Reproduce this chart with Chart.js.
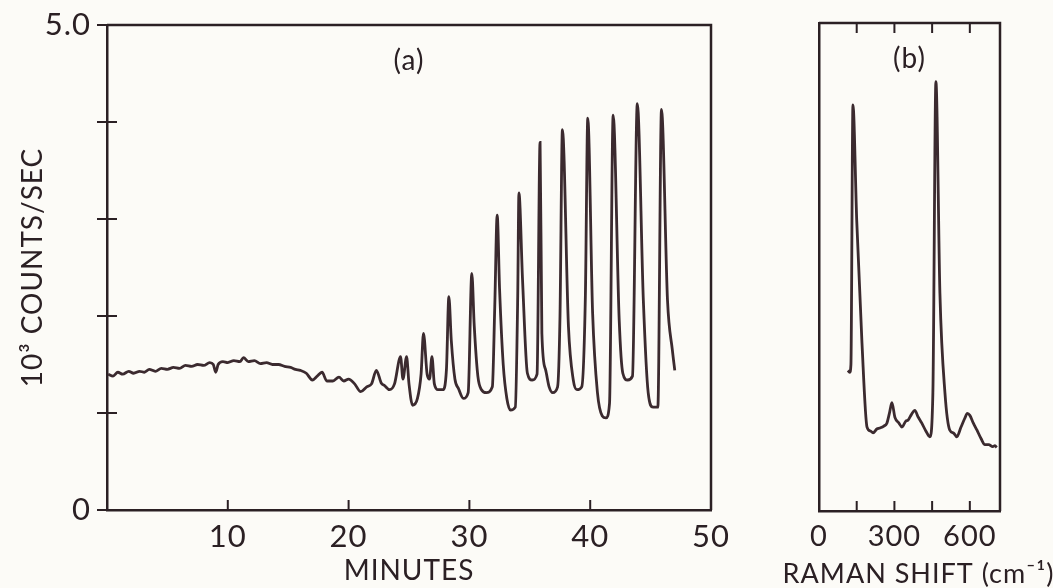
<!DOCTYPE html>
<html>
<head>
<meta charset="utf-8">
<script src="https://cdn.jsdelivr.net/npm/chart.js@4"></script>
<style>
  html, body { margin: 0; padding: 0; background: #fcfbf7; }
  #wrapA { position: absolute; left: 0; top: 0; width: 760px; height: 588px; }
  #wrapB { position: absolute; left: 760px; top: 0; width: 293px; height: 588px; }
</style>
</head>
<body>
<div id="wrapA"><canvas id="chartA"></canvas></div>
<div id="wrapB"><canvas id="chartB"></canvas></div>
<script>
// (a) counts vs time, minutes
var minutes = [
  0.1, 0.5, 0.9, 1.3, 1.8, 2.2, 2.7, 3.1, 3.5, 4.0, 4.5, 5.0, 5.5, 6.0, 6.5, 7.0, 7.5, 8.0, 8.5, 8.8,
  9.0, 9.2, 9.6, 10.0, 10.5, 11.0, 11.3, 11.7, 12.2, 12.7, 13.2, 13.7, 14.2, 14.7, 15.2, 15.6, 16.0, 16.5, 17.0, 17.4,
  17.8, 18.2, 18.7, 19.2, 19.6, 20.0, 20.5, 21.0, 21.5, 21.9, 22.3, 22.7, 23.0, 23.4, 23.8, 24.3, 24.5, 24.8, 25.0, 25.3,
  25.7, 26.0, 26.2, 26.5, 26.7, 26.9, 27.1, 27.4, 27.8, 28.1, 28.3, 28.5, 28.8, 29.1, 29.5, 29.9, 30.2, 30.4, 30.7, 31.0,
  31.4, 31.9, 32.1, 32.3, 32.5, 32.8, 33.1, 33.4, 33.8, 34.0, 34.1, 34.4, 34.8, 35.2, 35.6, 35.85, 36.0, 36.3, 36.6, 36.9,
  37.3, 37.5, 37.7, 38.2, 38.6, 38.9, 39.3, 39.6, 39.8, 40.2, 40.6, 41.0, 41.3, 41.6, 41.9, 42.4, 42.7, 43.1, 43.5, 43.9,
  44.4, 44.8, 45.2, 45.6, 45.9, 46.4, 46.8, 47.0
];
var countsA = [
  1.40, 1.38, 1.42, 1.40, 1.43, 1.41, 1.43, 1.42, 1.45, 1.43, 1.46, 1.45, 1.47, 1.46, 1.49, 1.48, 1.50, 1.49, 1.52, 1.50,
  1.42, 1.50, 1.53, 1.52, 1.54, 1.53, 1.57, 1.53, 1.54, 1.51, 1.52, 1.50, 1.50, 1.48, 1.47, 1.45, 1.44, 1.41, 1.34, 1.38,
  1.42, 1.33, 1.33, 1.37, 1.33, 1.35, 1.30, 1.22, 1.27, 1.30, 1.44, 1.31, 1.28, 1.24, 1.30, 1.58, 1.35, 1.58, 1.30, 1.08,
  1.15, 1.40, 1.82, 1.40, 1.35, 1.58, 1.30, 1.24, 1.24, 1.45, 2.20, 1.75, 1.35, 1.25, 1.15, 1.21, 2.44, 1.90, 1.38, 1.24,
  1.21, 1.27, 2.10, 3.04, 2.27, 1.50, 1.15, 1.03, 1.06, 2.20, 3.27, 2.37, 1.41, 1.34, 1.40, 3.79, 1.82, 1.45, 1.27, 1.21,
  1.27, 2.00, 3.92, 1.89, 1.34, 1.24, 1.27, 2.20, 4.04, 2.03, 1.21, 0.97, 0.95, 1.10, 4.07, 1.96, 1.41, 1.34, 1.38, 4.19,
  2.16, 1.21, 1.06, 1.06, 4.13, 2.16, 1.65, 1.44
];

// (b) Raman spectrum, cm-1
var ramanShift = [
  115, 122, 127, 135, 150, 171, 191, 205, 215, 230, 242, 258, 270, 280, 290, 302, 318, 330, 345, 354,
  368, 381, 395, 409, 425, 441, 453, 465, 481, 501, 520, 535, 548, 565, 580, 590, 600, 614, 628, 645,
  660, 675, 691, 700, 707
];
var countsB = [
  1.44, 1.42, 1.50, 4.16, 2.98, 1.72, 0.86, 0.82, 0.80, 0.84, 0.85, 0.87, 0.90, 1.00, 1.11, 0.96, 0.90, 0.86, 0.92, 0.93,
  0.99, 1.03, 0.96, 0.90, 0.82, 0.76, 1.21, 4.40, 2.23, 1.21, 0.83, 0.80, 0.76, 0.86, 0.95, 1.00, 0.98, 0.90, 0.83, 0.74,
  0.68, 0.68, 0.66, 0.67, 0.65
];

var yLabels = { 0: "0", 5: "5.0" };
var ramanLabels = [0, 300, 600];

var ink = "#2b2024";
var lineInk = "#3b2a2f";
var fam = "Lato, 'Open Sans', sans-serif";

function toPoints(xs, ys) {
  return xs.map(function (x, i) { return { x: x, y: ys[i] }; });
}

// short tick marks pointing into the plot, top/right frame, panel tag
function frameTicks(opts) {
  return {
    id: "frameTicks",
    beforeDraw: function (chart) {
      chart.ctx.letterSpacing = opts.spacing;
    },
    afterDraw: function (chart) {
      var ctx = chart.ctx, a = chart.chartArea;
      ctx.save();
      ctx.strokeStyle = ink;
      ctx.lineWidth = 2.5;
      ctx.beginPath();
      ctx.moveTo(a.left, a.top);
      ctx.lineTo(a.right, a.top);
      ctx.lineTo(a.right, a.bottom);
      ctx.stroke();
      ctx.lineWidth = 2;
      var xs = chart.scales.x, ys = chart.scales.y;
      xs.ticks.forEach(function (t) {
        if (t.value <= xs.min || t.value >= xs.max) return;
        var px = xs.getPixelForValue(t.value);
        ctx.beginPath();
        ctx.moveTo(px, a.bottom);
        ctx.lineTo(px, a.bottom - opts.len);
        if (opts.top) {
          ctx.moveTo(px, a.top);
          ctx.lineTo(px, a.top + opts.len);
        }
        ctx.stroke();
      });
      if (opts.yInner) {
        ys.ticks.forEach(function (t) {
          if (t.value <= ys.min || t.value >= ys.max) return;
          var py = ys.getPixelForValue(t.value);
          ctx.beginPath();
          ctx.moveTo(a.left, py);
          ctx.lineTo(a.left + opts.len, py);
          ctx.stroke();
        });
      }
      ctx.fillStyle = ink;
      ctx.textAlign = "center";
      ctx.textBaseline = "middle";
      ctx.letterSpacing = "1px";
      ctx.font = "28px " + fam;
      ctx.fillText(opts.tag, (a.left + a.right) / 2, a.top + 36);
      if (opts.xTitle) {
        ctx.font = "27px " + fam;
        ctx.fillText(opts.xTitle, (a.left + a.right) / 2 + 9, 574);
      }
      ctx.restore();
    }
  };
}

new Chart(document.getElementById("chartA"), {
  type: "line",
  data: {
    datasets: [{
      data: toPoints(minutes, countsA),
      borderColor: lineInk,
      borderWidth: 2.8,
      pointRadius: 0,
      cubicInterpolationMode: "monotone"
    }]
  },
  options: {
    responsive: true,
    maintainAspectRatio: false,
    animation: false,
    layout: { padding: { top: 25, right: 49, left: 0, bottom: 0 } },
    plugins: { legend: { display: false }, tooltip: { enabled: false } },
    scales: {
      x: {
        type: "linear", min: 0, max: 50,
        ticks: {
          stepSize: 10, autoSkip: false, maxRotation: 0, padding: 8, color: ink,
          font: { family: fam, size: 31 },
          callback: function (v) { return v === 0 ? "" : v; }
        },
        grid: { display: false, drawTicks: false },
        border: { display: true, color: ink, width: 2.5 },
        title: { display: true, text: "MINUTES", color: ink, padding: { top: 0, bottom: 0 },
          font: { family: fam, size: 28 } },
        afterFit: function (s) { s.height = 78; }
      },
      y: {
        min: 0, max: 5,
        ticks: {
          stepSize: 1, autoSkip: false, padding: 6, color: ink,
          font: { family: fam, size: 31 },
          callback: function (v) { return yLabels[v] || ""; }
        },
        grid: { drawOnChartArea: false, drawTicks: true, tickLength: 10, color: ink, lineWidth: 2 },
        border: { display: true, color: ink, width: 2.5 },
        title: { display: true, text: "10³ COUNTS/SEC", color: ink, padding: { top: 16, bottom: 0 },
          font: { family: fam, size: 28 } },
        afterFit: function (s) { s.width = 107; }
      }
    }
  },
  plugins: [frameTicks({ len: 10, top: false, yInner: true, tag: "(a)", spacing: "1px" })]
});

new Chart(document.getElementById("chartB"), {
  type: "line",
  data: {
    datasets: [{
      data: toPoints(ramanShift, countsB),
      borderColor: lineInk,
      borderWidth: 2.8,
      pointRadius: 0,
      cubicInterpolationMode: "monotone"
    }]
  },
  options: {
    responsive: true,
    maintainAspectRatio: false,
    animation: false,
    layout: { padding: { top: 23, right: 53, left: 0, bottom: 0 } },
    plugins: { legend: { display: false }, tooltip: { enabled: false } },
    scales: {
      x: {
        type: "linear", min: 0, max: 720,
        ticks: {
          stepSize: 150, includeBounds: false, autoSkip: false, maxRotation: 0, padding: 8, color: ink,
          font: { family: fam, size: 29 },
          callback: function (v) { return ramanLabels.indexOf(v) >= 0 ? v : ""; }
        },
        grid: { display: false, drawTicks: false },
        border: { display: true, color: ink, width: 2.5 },
        afterFit: function (s) { s.height = 77; }
      },
      y: {
        min: 0, max: 5,
        ticks: { display: false, stepSize: 1 },
        grid: { display: false, drawTicks: false },
        border: { display: true, color: ink, width: 2.5 },
        afterFit: function (s) { s.width = 59; }
      }
    }
  },
  plugins: [frameTicks({ len: 10, top: true, yInner: false, tag: "(b)", spacing: "1px",
    xTitle: "RAMAN SHIFT (cm⁻¹)" })]
});
</script>
</body>
</html>
